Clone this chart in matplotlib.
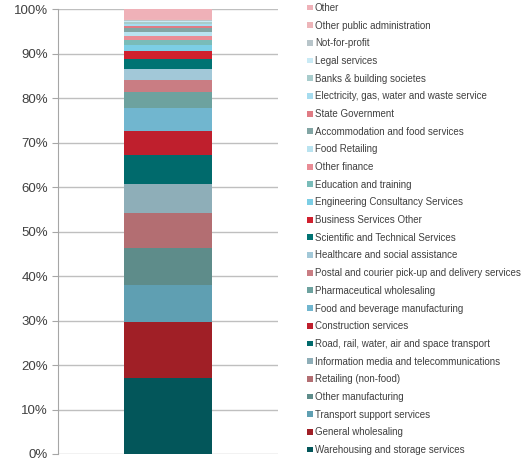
import matplotlib
matplotlib.use("Agg")
import matplotlib.pyplot as plt
from matplotlib.patches import Patch
from matplotlib.ticker import FuncFormatter

plt.rcParams['font.family'] = ['Liberation Sans', 'DejaVu Sans']

# Segments listed bottom to top
industries = [
    "Warehousing and storage services",
    "General wholesaling",
    "Transport support services",
    "Other manufacturing",
    "Retailing (non-food)",
    "Information media and telecommunications",
    "Road, rail, water, air and space transport",
    "Construction services",
    "Food and beverage manufacturing",
    "Pharmaceutical wholesaling",
    "Postal and courier pick-up and delivery services",
    "Healthcare and social assistance",
    "Scientific and Technical Services",
    "Business Services Other",
    "Engineering Consultancy Services",
    "Education and training",
    "Other finance",
    "Food Retailing",
    "Accommodation and food services",
    "State Government",
    "Electricity, gas, water and waste service",
    "Banks & building societes",
    "Legal services",
    "Not-for-profit",
    "Other public administration",
    "Other",
]
shares = [
    17.2, 12.6, 8.2, 8.4, 7.9, 6.4, 6.6, 5.4, 5.2, 3.6,
    2.6, 2.5, 2.2, 1.9, 1.3, 1.1, 1.0, 0.9, 0.9, 0.4,
    0.4, 0.4, 0.25, 0.3, 0.25, 2.1,
]
colors = [
    "#03565a", "#a01f26", "#5f9fb2", "#5e8c8a", "#b36e72", "#8eaeb8",
    "#006a6c", "#bf1f2d", "#71b6cf", "#6da29f", "#c97d83", "#a2c8d8",
    "#007373", "#d0202e", "#7ccee5", "#79bcb9", "#e98c95", "#b9e3f0",
    "#82a5a4", "#e07b84", "#a6dcef", "#a8cccc", "#c9eaf5", "#b8c5ca",
    "#edb5b9", "#efb1b8",
]
tick_values = [0, 10, 20, 30, 40, 50, 60, 70, 80, 90, 100]

fig = plt.figure(figsize=(5.26, 4.61), dpi=100)
ax = fig.add_axes([0.110, 0.0152, 0.4185, 0.9642])

bottom = 0.0
for name, val, col in zip(industries, shares, colors):
    ax.bar(0, val, width=0.4, bottom=bottom, color=col, linewidth=0, zorder=3)
    bottom += val

ax.set_xlim(-0.5, 0.5)
ax.set_ylim(0, 100)
ax.set_yticks(tick_values)
ax.yaxis.set_major_formatter(FuncFormatter(lambda v, p: f"{v:.0f}%"))
ax.set_xticks([])
ax.tick_params(axis='y', length=4, width=0.8, color="#a6a6a6",
               labelsize=9.5, labelcolor="#404040", pad=3)
ax.grid(axis='y', color="#bfbfbf", linewidth=1.0, zorder=0)
for s in ("top", "right", "bottom"):
    ax.spines[s].set_visible(False)
ax.spines["left"].set_color("#a6a6a6")
ax.spines["left"].set_linewidth(0.8)

handles = [Patch(facecolor=c, edgecolor='none') for c in colors][::-1]
labels = industries[::-1]
leg = fig.legend(handles, labels, loc="upper left",
                 bbox_to_anchor=(0.5826, 0.9957), frameon=False,
                 fontsize=7.0, handlelength=0.55, handleheight=0.55,
                 handletextpad=0.22, labelspacing=0.79, borderaxespad=0,
                 borderpad=0.1)
for t in leg.get_texts():
    t.set_color("#404040")

fig.savefig("out.png", dpi=100)
